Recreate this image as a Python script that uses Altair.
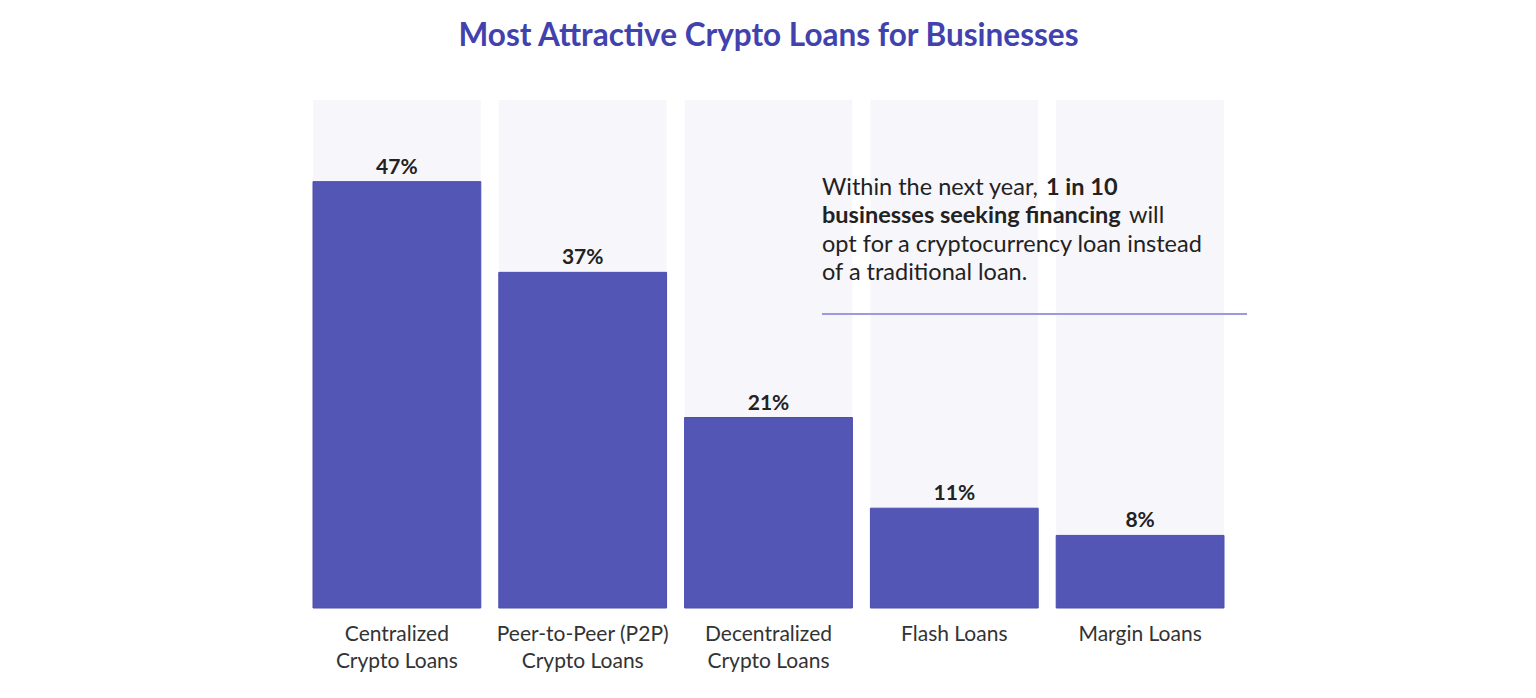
import altair as alt
import pandas as pd

categories = ["Centralized|Crypto Loans", "Peer-to-Peer (P2P)|Crypto Loans",
              "Decentralized|Crypto Loans", "Flash Loans", "Margin Loans"]
values = [47, 37, 21, 11, 8]
value_labels = ["47%", "37%", "21%", "11%", "8%"]
scale_max = 56

title_text = "Most Attractive Crypto Loans for Businesses"
note_lines = [
    [("Within the next year, ", "normal"), ("1 in 10", "bold")],
    [("businesses seeking financing", "bold"), ("will", "normal")],
    [("opt for a cryptocurrency loan instead", "normal")],
    [("of a traditional loan.", "normal")],
]

df = pd.DataFrame({"cat": categories, "val": values, "lab": value_labels, "bg": [scale_max] * len(categories)})

FONT = "Lato"
W, H = 911, 508
BAR = "#5356B4"

x = alt.X("cat:N", sort=None, title=None,
          scale=alt.Scale(paddingInner=0.097, paddingOuter=0),
          axis=alt.Axis(labelExpr="split(datum.value, '|')", labelAngle=0, domain=False, ticks=False,
                        labelFont=FONT, labelFontSize=21, labelColor="#333333", labelPadding=15,
                        labelLineHeight=27, labelBaseline="top"))
yscale = alt.Scale(domain=[0, scale_max], nice=False)

base = alt.Chart(df)
bg = base.mark_bar(color="#F7F6FB").encode(
    x=x, y=alt.Y("bg:Q", scale=yscale, axis=None), y2=alt.datum(0))
bars = base.mark_bar(color=BAR, stroke="#4B4EAE", strokeWidth=1).encode(
    x=x, y=alt.Y("val:Q", scale=yscale, axis=None))
labels = base.mark_text(font=FONT, fontSize=21, fontWeight="bold", color="#222222",
                        baseline="bottom", dy=-4).encode(
    x=x, y=alt.Y("val:Q", scale=yscale), text="lab:N")

layers = [bg, bars, labels]

# annotation text (positioned in pixels, not data)
x0 = 509
line_y = [95, 123, 152, 180]
x_offsets = {(0, 1): 733, (1, 1): 816}
for i, parts in enumerate(note_lines):
    for j, (txt, wt) in enumerate(parts):
        xp = x_offsets.get((i, j), x0)
        layers.append(
            alt.Chart(pd.DataFrame({"t": [txt]})).mark_text(
                font=FONT, fontSize=23.5, fontWeight=wt, color="#222222",
                align="left", baseline="alphabetic").encode(
                x=alt.value(xp), y=alt.value(line_y[i]), text="t:N"))

rule = alt.Chart(pd.DataFrame({"a": [0]})).mark_rule(color="#9A9ADC", strokeWidth=2).encode(
    x=alt.value(509), x2=alt.value(934), y=alt.value(214))
layers.append(rule)

chart = alt.layer(*layers).properties(
    width=W, height=H,
    title=alt.TitleParams(title_text, font=FONT, fontSize=31.5, fontWeight="bold", color="#4142AE",
                          anchor="middle", baseline="alphabetic", offset=23),
    autosize=alt.AutoSizeParams(type="none"),
    padding={"left": 305, "top": 92, "right": 60, "bottom": 82},
).configure_view(stroke=None)

chart.save("out.html", embed_options={"renderer": "svg", "actions": False})
